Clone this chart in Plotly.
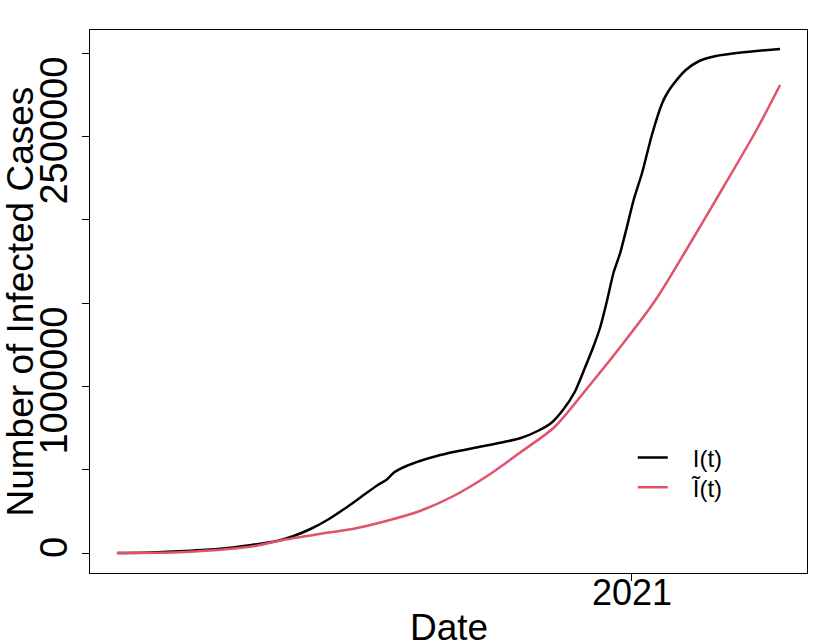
import plotly.graph_objects as go

# observed cumulative infections I(t)
obs_dates = ["2020-03-01", "2020-03-21", "2020-04-10", "2020-04-30", "2020-05-20", "2020-06-04",
             "2020-06-14", "2020-06-24", "2020-07-04", "2020-07-14", "2020-07-24", "2020-08-03",
             "2020-08-08", "2020-08-13", "2020-08-20", "2020-08-28", "2020-09-07", "2020-09-17",
             "2020-10-02", "2020-10-17", "2020-10-27", "2020-11-06", "2020-11-14", "2020-11-21",
             "2020-11-28", "2020-12-04", "2020-12-09", "2020-12-13", "2020-12-17", "2020-12-21",
             "2020-12-25", "2020-12-29", "2021-01-02", "2021-01-07", "2021-01-13", "2021-01-19",
             "2021-01-22", "2021-01-25", "2021-02-02", "2021-02-10", "2021-02-20", "2021-03-04",
             "2021-03-16", "2021-03-30"]
obs_cases = [0, 3000, 12000, 24000, 48000, 72000,
             102000, 144000, 198000, 264000, 336000, 408000,
             438000, 486000, 522000, 552000, 582000, 606000,
             636000, 666000, 690000, 732000, 780000, 858000,
             966000, 1110000, 1236000, 1350000, 1506000, 1680000,
             1800000, 1956000, 2118000, 2280000, 2514000, 2700000,
             2760000, 2805000, 2898000, 2952000, 2982000, 3000000,
             3012000, 3024000]

# fitted curve I~(t)
fit_dates = ["2020-03-01", "2020-04-10", "2020-05-20", "2020-06-09", "2020-06-29", "2020-07-19",
             "2020-08-08", "2020-08-28", "2020-09-17", "2020-10-07", "2020-10-27", "2020-11-16",
             "2020-12-06", "2020-12-26", "2021-01-15", "2021-02-04", "2021-02-24", "2021-03-16",
             "2021-03-30"]
fit_cases = [0, 6000, 39000, 81000, 114000, 144000,
             192000, 252000, 342000, 462000, 606000, 756000,
             996000, 1248000, 1518000, 1848000, 2190000, 2538000,
             2808000]

y_ticks = [0, 500000, 1000000, 1500000, 2000000, 2500000, 3000000]
y_labels = ["0", "", "1000000", "", "", "2500000", ""]

font = dict(family="Liberation Sans, Arial, sans-serif", color="black")

fig = go.Figure()
fig.add_trace(go.Scatter(x=obs_dates, y=obs_cases, mode="lines", name="\u00a0\u00a0\u00a0I(t)",
                         line=dict(color="black", width=2.5, shape="spline", smoothing=0.6),
                         legend="legend"))
fig.add_trace(go.Scatter(x=fit_dates, y=fit_cases, mode="lines", name="\u00a0\u00a0\u00a0Ĩ(t)",
                         line=dict(color="#DF536B", width=2.5, shape="spline", smoothing=0.8),
                         legend="legend2"))

fig.update_xaxes(range=["2020-02-14", "2021-04-15"], tickvals=["2021-01-01"], ticktext=["2021"],
                 showline=True, mirror=True, linecolor="black", linewidth=1, showgrid=False,
                 zeroline=False, ticks="outside", ticklen=7, tickcolor="black", automargin=False,
                 ticklabelstandoff=-19, tickfont=dict(size=36, **font))
fig.update_yaxes(range=[-120000, 3138000], tickvals=y_ticks, ticktext=y_labels, tickangle=-90,
                 showline=True, mirror=True, linecolor="black", linewidth=1, showgrid=False,
                 zeroline=False, ticks="outside", ticklen=7, tickcolor="black", automargin=False,
                 tickfont=dict(size=38, **font))

legend_style = dict(xanchor="left", yanchor="middle", bgcolor="rgba(0,0,0,0)",
                    font=dict(size=24, **font))
fig.update_layout(
    width=830, height=642, margin=dict(l=90, r=23, t=30, b=69),
    plot_bgcolor="white", paper_bgcolor="white", showlegend=True,
    legend=dict(x=0.757, y=0.212, **legend_style),
    legend2=dict(x=0.757, y=0.157, **legend_style),
    annotations=[
        dict(text="Date", xref="paper", yref="paper", x=0.5, y=0, xanchor="center", yanchor="middle",
             yshift=-54, showarrow=False, font=dict(size=37, **font)),
        dict(text="Number of Infected Cases", xref="paper", yref="paper", x=0, y=0.5, textangle=-90,
             xanchor="center", yanchor="middle", xshift=-70, showarrow=False,
             font=dict(size=37, **font)),
    ],
)

# drop the default page margin so the figure sits at the window's top-left corner
fig.write_html("out.html", config={"displayModeBar": False},
               post_script="document.body.style.margin = '0';")
